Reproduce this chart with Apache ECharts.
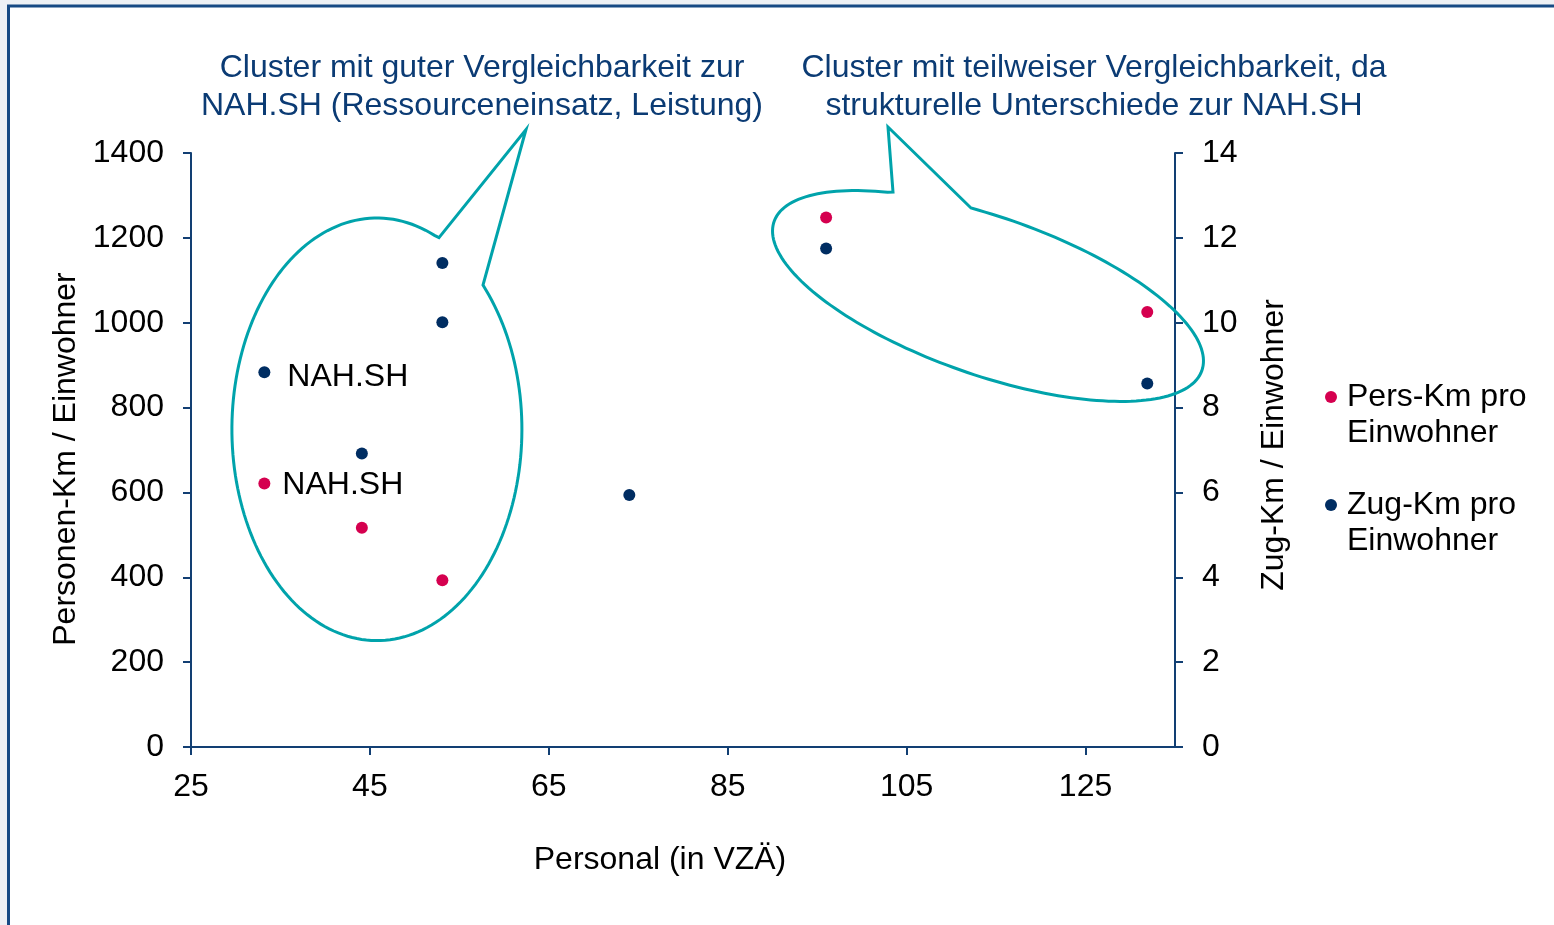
<!DOCTYPE html>
<html>
<head>
<meta charset="utf-8">
<title>Personal vs. Km pro Einwohner</title>
<script src="https://cdn.jsdelivr.net/npm/echarts@6/dist/echarts.min.js"></script>
<style>
  html, body { margin: 0; padding: 0; background: #eef1f5; }
  #chart { width: 1554px; height: 925px; }
</style>
</head>
<body>
<div id="chart"></div>
<script>
// Personal (in VZÄ) je Vergleichsunternehmen
var persX = [33.2, 44.1, 53.1, 96.0, 131.9]
var persKm = [621, 517, 393, 1248, 1025]
var persLabels = ['NAH.SH', '', '', '', '']

var zugX = [33.2, 44.1, 53.1, 53.1, 74.0, 96.0, 131.9]
var zugKm = [8.83, 6.92, 11.41, 10.01, 5.94, 11.75, 8.57]
var zugLabels = ['NAH.SH', '', '', '', '', '', '']

var xTicks = { min: 25, max: 135, interval: 20 }
var leftTicks = { min: 0, max: 1400, interval: 200 }
var rightTicks = { min: 0, max: 14, interval: 2 }

var seriesNames = ['Pers-Km pro\nEinwohner', 'Zug-Km pro\nEinwohner']
var calloutTexts = [
  'Cluster mit guter Vergleichbarkeit zur\nNAH.SH (Ressourceneinsatz, Leistung)',
  'Cluster mit teilweiser Vergleichbarkeit, da\nstrukturelle Unterschiede zur NAH.SH'
]

var FONT = '"Liberation Sans", Arial, sans-serif'
var FS = 32
var AXIS_COLOR = '#123f73'
var PINK = '#d5004f'
var NAVY = '#002d62'
var TEAL = '#00a3ab'

function buildData(xs, ys, labels, dist, offset) {
  return xs.map(function (x, i) {
    var item = { value: [x, ys[i]] }
    if (labels[i]) {
      item.label = {
        show: true,
        formatter: labels[i],
        position: 'right',
        distance: dist,
        offset: offset,
        color: '#000',
        fontSize: FS,
        fontFamily: FONT
      }
    }
    return item
  })
}

// speech bubble outline: ellipse (cx, cy, rx, ry, rotation) with a tail
function bubble(cx, cy, rx, ry, rotDeg, base1, tip, base2) {
  var r = rotDeg * Math.PI / 180
  var c = Math.cos(r), s = Math.sin(r)
  function angle(p) {
    var dx = p[0] - cx, dy = p[1] - cy
    var u = dx * c + dy * s
    var v = -dx * s + dy * c
    return Math.atan2(v / ry, u / rx)
  }
  var t1 = angle(base1)
  var t2 = angle(base2)
  if (t1 < t2) t1 += Math.PI * 2
  var pts = [base1, tip, base2]
  var n = 180
  for (var i = 1; i < n; i++) {
    var t = t2 + (t1 - t2) * i / n
    var u = rx * Math.cos(t), v = ry * Math.sin(t)
    pts.push([cx + u * c - v * s, cy + u * s + v * c])
  }
  return pts
}

function axisStyle(pos, ticks, margin) {
  return {
    type: 'value',
    position: pos,
    min: ticks.min,
    max: ticks.max,
    interval: ticks.interval,
    splitLine: { show: false },
    axisLine: { show: true, onZero: false, lineStyle: { color: AXIS_COLOR, width: 2 } },
    axisTick: { show: true, inside: false, length: 8, lineStyle: { color: AXIS_COLOR, width: 2 } },
    axisLabel: {
      color: '#000',
      fontSize: FS,
      fontFamily: FONT,
      margin: margin,
      formatter: function (v) { return String(v) }
    },
    nameTextStyle: { color: '#000', fontSize: FS, fontFamily: FONT }
  }
}

var chart = echarts.init(document.getElementById('chart'))

var xAxis = axisStyle('bottom', xTicks, 24)
xAxis.axisLabel.showMaxLabel = false
xAxis.name = 'Personal (in VZÄ)'
xAxis.nameLocation = 'middle'
xAxis.nameGap = 97
xAxis.nameTextStyle.padding = [0, 46, 0, 0]

var yLeft = axisStyle('left', leftTicks, 27)
yLeft.name = 'Personen-Km / Einwohner'
yLeft.nameLocation = 'middle'
yLeft.nameGap = 105
yLeft.nameTextStyle.padding = [0, 18, 0, 0]

var yRight = axisStyle('right', rightTicks, 27)
yRight.name = 'Zug-Km / Einwohner'
yRight.nameLocation = 'middle'
yRight.nameGap = 83
yRight.nameTextStyle.padding = [0, 0, 0, 10]

chart.setOption({
  backgroundColor: '#eef1f5',
  animation: false,
  textStyle: { fontFamily: FONT },
  grid: { left: 191, right: 379, top: 153, bottom: 178 },
  xAxis: xAxis,
  yAxis: [yLeft, yRight],
  legend: {
    orient: 'vertical',
    left: 1325,
    top: 343,
    padding: 0,
    itemGap: 0,
    itemWidth: 12,
    itemHeight: 12,
    icon: 'circle',
    data: seriesNames,
    // leading empty line puts the marker next to the first text line
    formatter: function (name) { return '\n' + name },
    textStyle: { color: '#000', fontSize: FS, lineHeight: 36, fontFamily: FONT, padding: [0, 0, 0, 5] }
  },
  graphic: [
    {
      type: 'rect',
      z: -10,
      shape: { x: 8.5, y: 6, width: 1600, height: 1000 },
      style: { fill: '#fff', stroke: '#174a84', lineWidth: 3 }
    },
    {
      type: 'polygon',
      z: 1,
      shape: { points: bubble(376.9, 429.3, 145, 211.3, 0, [439, 237.6], [526, 129.5], [483, 285]) },
      style: { fill: null, stroke: TEAL, lineWidth: 3, lineJoin: 'miter' }
    },
    {
      type: 'polygon',
      z: 1,
      shape: { points: bubble(988, 296, 226.5, 79, 19.2, [893, 192], [888, 127], [971, 208]) },
      style: { fill: null, stroke: TEAL, lineWidth: 3, lineJoin: 'miter' }
    },
    {
      type: 'text',
      x: 482,
      y: 87,
      style: {
        text: calloutTexts[0],
        fill: '#0b3b74',
        font: FS + 'px ' + FONT,
        lineHeight: 38,
        textAlign: 'center',
        textVerticalAlign: 'middle'
      }
    },
    {
      type: 'text',
      x: 1094,
      y: 87,
      style: {
        text: calloutTexts[1],
        fill: '#0b3b74',
        font: FS + 'px ' + FONT,
        lineHeight: 38,
        textAlign: 'center',
        textVerticalAlign: 'middle'
      }
    }
  ],
  series: [
    {
      name: seriesNames[0],
      type: 'scatter',
      yAxisIndex: 0,
      symbol: 'circle',
      symbolSize: 12,
      itemStyle: { color: PINK, opacity: 1 },
      data: buildData(persX, persKm, persLabels, 12, [0, 2])
    },
    {
      name: seriesNames[1],
      type: 'scatter',
      yAxisIndex: 1,
      symbol: 'circle',
      symbolSize: 12,
      itemStyle: { color: NAVY, opacity: 1 },
      data: buildData(zugX, zugKm, zugLabels, 17, [0, 5])
    }
  ]
})
</script>
</body>
</html>
